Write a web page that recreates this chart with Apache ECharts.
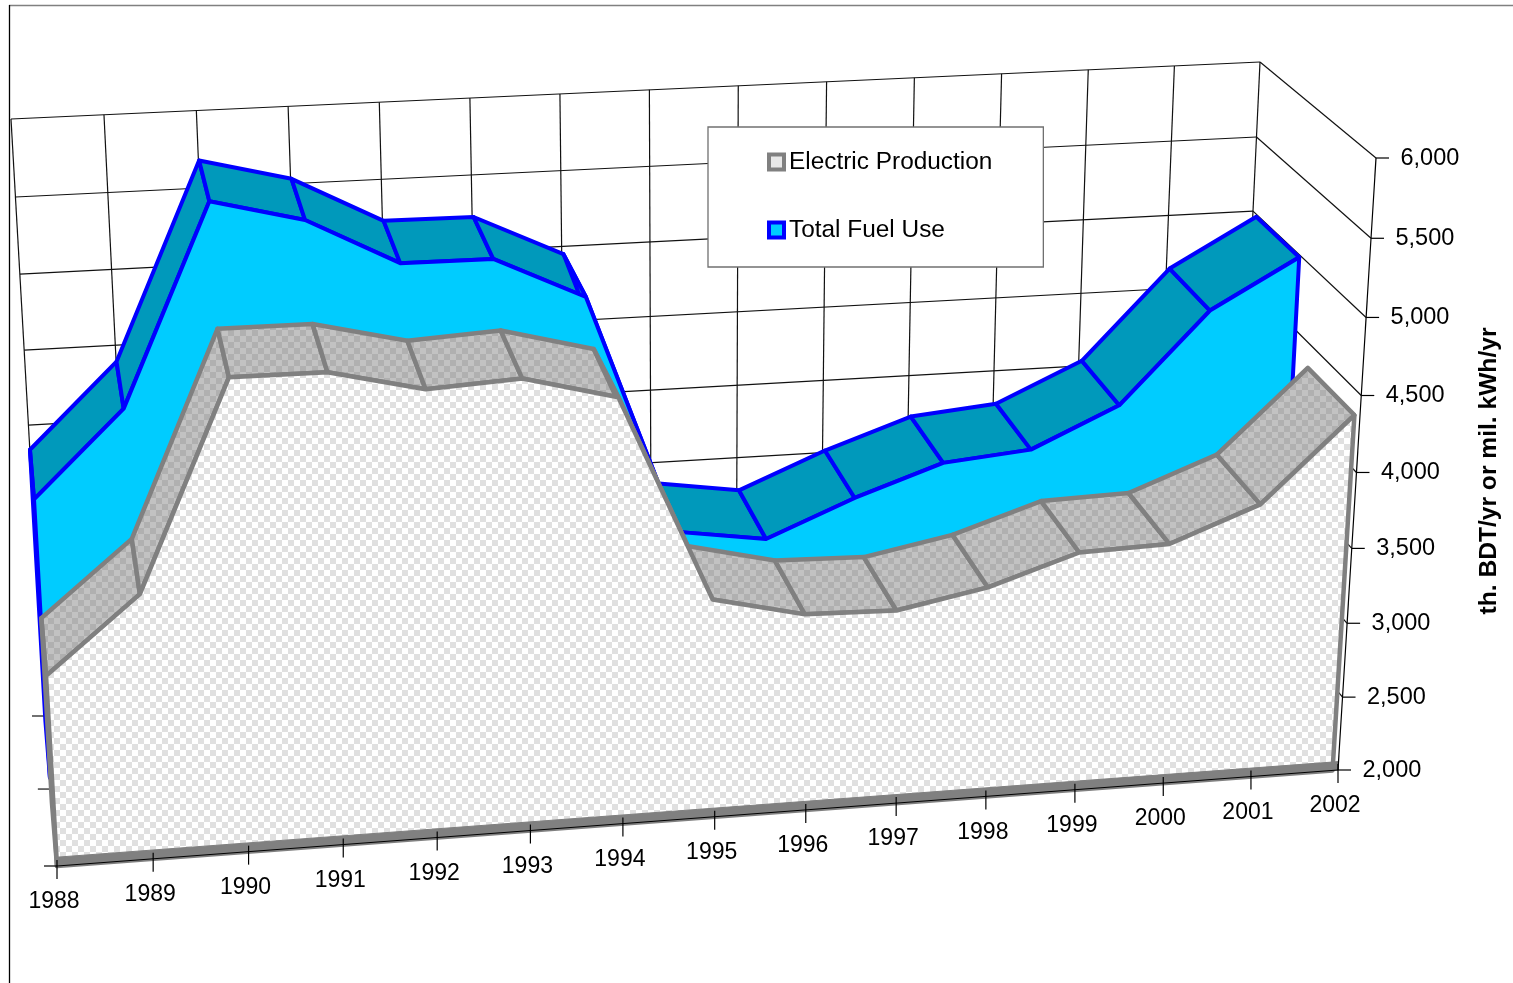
<!DOCTYPE html><html><head><meta charset="utf-8"><style>html,body{margin:0;background:#fff}#main{width:1513px;height:983px}</style><script src="https://cdn.jsdelivr.net/npm/echarts@6/dist/echarts.min.js"></script></head><body><div id="main"></div><script>
const years=['1988','1989','1990','1991','1992','1993','1994','1995','1996','1997','1998','1999','2000','2001','2002'];
const electricProduction=[3234,3712,5020,5018,4880,4912,4762,3440,3303,3288,3400,3590,3608,3830,4375];
const totalFuelUse=[3861,4415,5700,5553,5250,5246,4971,3386,3300,3541,3742,3796,4060,4661,4983];
const valueTicks=[2000,2500,3000,3500,4000,4500,5000,5500,6000];
const yTitle='th. BDT/yr or mil. kWh/yr';
const FONT='"Liberation Sans", Arial, sans-serif';

// Perspective box: where the hidden grid's rectangle lands on screen, front and back
const FRONT=[[57,866],[1338,770],[1376,158],[20,224]], BACK=[[45,716],[1233,637],[1260,62],[11,119]];
const cache={};
function planeMatrix(t){
  if(cache[t])return cache[t];
  const q=FRONT.map((p,i)=>[p[0]+(BACK[i][0]-p[0])*t,p[1]+(BACK[i][1]-p[1])*t]);
  const [x0,y0]=q[0],[x1,y1]=q[1],[x2,y2]=q[2],[x3,y3]=q[3];
  const dx1=x1-x2,dx2=x3-x2,sx=x0-x1+x2-x3,dy1=y1-y2,dy2=y3-y2,sy=y0-y1+y2-y3;
  const d=dx1*dy2-dx2*dy1,g=(sx*dy2-dx2*sy)/d,h=(dx1*sy-sx*dy1)/d;
  return cache[t]=[x1-x0+g*x1,x3-x0+h*x3,x0,y1-y0+g*y1,y3-y0+h*y3,y0,g,h];
}
function projector(params,api,k){
  const c=params.coordSys,K=k||1;
  return (i,v,t)=>{
    const p=api.coord([i,v]),s=K*(p[0]-c.x)/c.width,u=1-(p[1]-c.y)/c.height,m=planeMatrix(t),w=m[6]*s+m[7]*u+1;
    return [(m[0]*s+m[1]*u+m[2])/w,(m[3]*s+m[4]*u+m[5])/w];
  };
}
function checker(a,b,size){
  const cv=document.createElement('canvas');cv.width=cv.height=size*2;
  const x=cv.getContext('2d');x.fillStyle=a;x.fillRect(0,0,size*2,size*2);
  x.fillStyle=b;x.fillRect(0,0,size,size);x.fillRect(size,size,size,size);
  return {image:cv,repeat:'repeat'};
}
const frontPattern=checker('#ffffff','#e0e0e0',6), topPattern=checker('#b0b0b0','#c2c2c2',6);
const line=(a,b,w,color)=>({type:'line',shape:{x1:a[0],y1:a[1],x2:b[0],y2:b[1]},style:{stroke:color||'#000',lineWidth:w||1}});
const poly=(points,fill,stroke,w)=>({type:'polygon',shape:{points},style:{fill,stroke,lineWidth:w,lineJoin:'round'}});

function wallVertical(params,api){
  const P=projector(params,api),i=params.dataIndex;
  return line(P(i,2000,1),P(i,6000,1),1.2,'#111');
}
function wallHorizontal(params,api){
  const P=projector(params,api),v=valueTicks[params.dataIndex];
  return {type:'group',children:[line(P(0,v,1),P(14,v,1),1.2,'#111'),line(P(14,v,1),P(14,v,0),1.2,'#111')]};
}
function depthTicks(params,api){
  const P=projector(params,api),t=[.513,1][params.dataIndex],a=P(0,2000,t);
  return line([a[0]-13,a[1]],a,1.2,'#111');
}
function tops(values,tf,tb,fill,stroke,lw,k){
  return (params,api)=>{
    const i=params.dataIndex;if(i>=values.length-1)return null;
    const P=projector(params,api,k);
    return poly([P(i,values[i],tf),P(i+1,values[i+1],tf),P(i+1,values[i+1],tb),P(i,values[i],tb)],fill,stroke,lw);
  };
}
function front(values,tf,tb,fill,sideFill,stroke,lw,k){
  return (params,api)=>{
    if(params.dataIndex>0)return null;
    const P=projector(params,api,k),n=values.length-1,pts=[P(0,2000,tf)];
    values.forEach((v,i)=>pts.push(P(i,v,tf)));pts.push(P(n,2000,tf));
    return {type:'group',children:[
      poly([P(0,values[0],tf),P(0,values[0],tb),P(0,2000,tb),P(0,2000,tf)],sideFill,stroke,lw),
      poly(pts,fill,stroke,lw)
    ]};
  };
}
function floorStrip(params,api){
  const P=projector(params,api);
  return poly([P(0,2000,0),P(14,2000,0),P(14,2058,0),P(0,2058,0)],'#808080','#808080',1);
}
function xAxisMarks(params,api){
  const P=projector(params,api),i=params.dataIndex,a=P(i,2000,0),ch=[
    line([a[0],a[1]-6],[a[0],a[1]+13],1.2),
    {type:'text',style:{text:years[i],x:a[0]-3,y:a[1]+36,align:'center',verticalAlign:'middle',fill:'#000',font:'23px '+FONT}}];
  if(i===0)ch.push(line(a,P(14,2000,0),1.2),line([a[0]-13,a[1]],a,1.2));
  return {type:'group',children:ch};
}
function yAxisMarks(params,api){
  const P=projector(params,api),k=params.dataIndex,v=valueTicks[k],a=P(14,v,0),ch=[
    line(a,[a[0]+13,a[1]],1.2),
    {type:'text',style:{text:v.toLocaleString('en-US'),x:a[0]+24.5,y:a[1]+.5,align:'left',verticalAlign:'middle',fill:'#000',font:'23.5px '+FONT}}];
  if(k===0)ch.push(line(a,P(14,6000,0),1.2));
  return {type:'group',children:ch};
}
const custom=(name,data,renderItem)=>({type:'custom',name,data,renderItem,silent:true,coordinateSystem:'cartesian2d',animation:false,clip:false,encode:{x:0,y:1}});
const idx=arr=>arr.map((v,i)=>[i,v]);
const E='Electric Production',T='Total Fuel Use';
const TE=[0,.42],TF=[.59,.97],EK=.9955;
const chart=echarts.init(document.getElementById('main'),null,{renderer:'canvas',width:1513,height:983});
chart.setOption({
  animation:false,backgroundColor:'#fff',
  grid:{left:100,top:100,width:1200,height:700,show:false},
  xAxis:{type:'category',data:years,boundaryGap:false,show:false},
  yAxis:{type:'value',min:2000,max:6000,interval:500,show:false},
  legend:{left:708,top:127,orient:'vertical',align:'left',backgroundColor:'#fff',borderColor:'#707070',borderWidth:1.3,
    padding:[23,51,25,59],itemWidth:15,itemHeight:15,itemGap:44,selectedMode:false,
    textStyle:{fontFamily:FONT,fontSize:24.4,color:'#000'},
    data:[{name:E,icon:'rect',itemStyle:{color:'#e8e8e8',borderColor:'#808080',borderWidth:4}},
          {name:T,icon:'rect',itemStyle:{color:'#00ccff',borderColor:'#0000ff',borderWidth:4}}]},
  graphic:[
    {type:'line',shape:{x1:9,y1:5.5,x2:1513,y2:5.5},style:{stroke:'#808080',lineWidth:1.6},silent:true,z:0},
    {type:'line',shape:{x1:9.5,y1:5,x2:9.5,y2:983},style:{stroke:'#000',lineWidth:1.3},silent:true,z:0},
    {type:'text',x:1489,y:471,rotation:Math.PI/2,style:{text:yTitle,align:'center',verticalAlign:'middle',fill:'#000',font:'bold 24.6px '+FONT},silent:true}
  ],
  series:[
    custom('wallV',idx(years),wallVertical),
    custom('wallH',idx(valueTicks),wallHorizontal),
    custom('depth',[[0,2000],[0,2000]],depthTicks),
    custom(T,idx(totalFuelUse),tops(totalFuelUse,TF[0],TF[1],'#0099bb','#0000ff',4)),
    custom(T,idx(totalFuelUse),front(totalFuelUse,TF[0],TF[1],'#00ccff','#0099bb','#0000ff',4)),
    custom(E,idx(electricProduction),tops(electricProduction,TE[0],TE[1],topPattern,'#808080',4.5,EK)),
    custom(E,idx(electricProduction),front(electricProduction,TE[0],TE[1],frontPattern,topPattern,'#808080',4.5,EK)),
    custom('floor',[[0,2000]],floorStrip),
    custom('xMarks',idx(years),xAxisMarks),
    custom('yMarks',idx(valueTicks),yAxisMarks)
  ]
});
</script></body></html>
